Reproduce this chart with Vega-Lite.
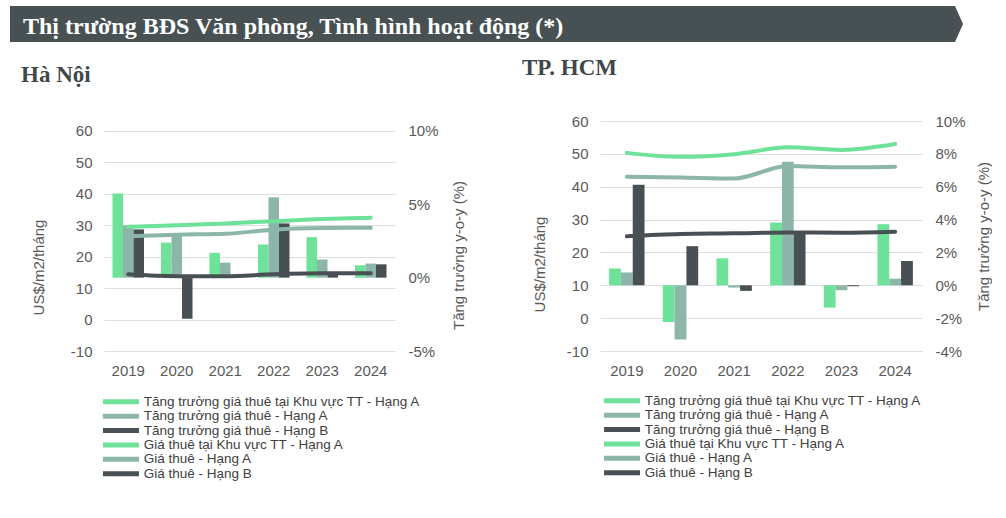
{
  "$schema": "https://vega.github.io/schema/vega-lite/v6.json",
  "padding": {"left": 10, "top": 6, "right": 0, "bottom": 0},
  "background": "white",
  "config": {
    "font": "Liberation Sans",
    "view": {"stroke": null},
    "axis": {"labelFont": "Liberation Sans", "labelFontSize": 15, "labelColor": "#595959", "titleFont": "Liberation Sans", "titleFontSize": 15, "titleFontWeight": "normal", "titleColor": "#595959", "domain": false, "ticks": false, "grid": false, "labelPadding": 12},
    "axisX": {"labelAngle": 0, "labelPadding": 12},
    "legend": {"orient": "none", "symbolType": "M-3,-0.42L3,-0.42L3,0.42L-3,0.42Z", "symbolSize": 144, "symbolStrokeWidth": 0, "labelFont": "Liberation Sans", "labelFontSize": 13.5, "labelColor": "#404040", "labelOffset": 16, "rowPadding": -0.6, "padding": 0, "labelLimit": 400}
  },
  "datasets": {
    "hn_bars": [
      {"year": "2019", "series": "Tăng trưởng giá thuê tại Khu vực TT - Hạng A", "value": 5.74},
      {"year": "2019", "series": "Tăng trưởng giá thuê - Hạng A", "value": 3.57},
      {"year": "2019", "series": "Tăng trưởng giá thuê - Hạng B", "value": 3.29},
      {"year": "2020", "series": "Tăng trưởng giá thuê tại Khu vực TT - Hạng A", "value": 2.39},
      {"year": "2020", "series": "Tăng trưởng giá thuê - Hạng A", "value": 2.95},
      {"year": "2020", "series": "Tăng trưởng giá thuê - Hạng B", "value": -2.8},
      {"year": "2021", "series": "Tăng trưởng giá thuê tại Khu vực TT - Hạng A", "value": 1.69},
      {"year": "2021", "series": "Tăng trưởng giá thuê - Hạng A", "value": 1.02},
      {"year": "2021", "series": "Tăng trưởng giá thuê - Hạng B", "value": 0.1},
      {"year": "2022", "series": "Tăng trưởng giá thuê tại Khu vực TT - Hạng A", "value": 2.26},
      {"year": "2022", "series": "Tăng trưởng giá thuê - Hạng A", "value": 5.48},
      {"year": "2022", "series": "Tăng trưởng giá thuê - Hạng B", "value": 3.7},
      {"year": "2023", "series": "Tăng trưởng giá thuê tại Khu vực TT - Hạng A", "value": 2.76},
      {"year": "2023", "series": "Tăng trưởng giá thuê - Hạng A", "value": 1.24},
      {"year": "2023", "series": "Tăng trưởng giá thuê - Hạng B", "value": 0.3},
      {"year": "2024", "series": "Tăng trưởng giá thuê tại Khu vực TT - Hạng A", "value": 0.85},
      {"year": "2024", "series": "Tăng trưởng giá thuê - Hạng A", "value": 0.96},
      {"year": "2024", "series": "Tăng trưởng giá thuê - Hạng B", "value": 0.91}
    ],
    "hn_lines": [
      {"year": "2019", "series": "Giá thuê tại Khu vực TT - Hạng A", "value": 29.5},
      {"year": "2020", "series": "Giá thuê tại Khu vực TT - Hạng A", "value": 30.0},
      {"year": "2021", "series": "Giá thuê tại Khu vực TT - Hạng A", "value": 30.6},
      {"year": "2022", "series": "Giá thuê tại Khu vực TT - Hạng A", "value": 31.3},
      {"year": "2023", "series": "Giá thuê tại Khu vực TT - Hạng A", "value": 32.0},
      {"year": "2024", "series": "Giá thuê tại Khu vực TT - Hạng A", "value": 32.4},
      {"year": "2019", "series": "Giá thuê - Hạng A", "value": 26.5},
      {"year": "2020", "series": "Giá thuê - Hạng A", "value": 27.0},
      {"year": "2021", "series": "Giá thuê - Hạng A", "value": 27.3},
      {"year": "2022", "series": "Giá thuê - Hạng A", "value": 28.6},
      {"year": "2023", "series": "Giá thuê - Hạng A", "value": 29.1},
      {"year": "2024", "series": "Giá thuê - Hạng A", "value": 29.2},
      {"year": "2019", "series": "Giá thuê - Hạng B", "value": 14.4},
      {"year": "2020", "series": "Giá thuê - Hạng B", "value": 13.8},
      {"year": "2021", "series": "Giá thuê - Hạng B", "value": 13.8},
      {"year": "2022", "series": "Giá thuê - Hạng B", "value": 14.4},
      {"year": "2023", "series": "Giá thuê - Hạng B", "value": 14.7},
      {"year": "2024", "series": "Giá thuê - Hạng B", "value": 14.7}
    ],
    "hcm_bars": [
      {"year": "2019", "series": "Tăng trưởng giá thuê tại Khu vực TT - Hạng A", "value": 1.02},
      {"year": "2019", "series": "Tăng trưởng giá thuê - Hạng A", "value": 0.78},
      {"year": "2019", "series": "Tăng trưởng giá thuê - Hạng B", "value": 6.12},
      {"year": "2020", "series": "Tăng trưởng giá thuê tại Khu vực TT - Hạng A", "value": -2.24},
      {"year": "2020", "series": "Tăng trưởng giá thuê - Hạng A", "value": -3.3},
      {"year": "2020", "series": "Tăng trưởng giá thuê - Hạng B", "value": 2.38},
      {"year": "2021", "series": "Tăng trưởng giá thuê tại Khu vực TT - Hạng A", "value": 1.64},
      {"year": "2021", "series": "Tăng trưởng giá thuê - Hạng A", "value": -0.14},
      {"year": "2021", "series": "Tăng trưởng giá thuê - Hạng B", "value": -0.34},
      {"year": "2022", "series": "Tăng trưởng giá thuê tại Khu vực TT - Hạng A", "value": 3.82},
      {"year": "2022", "series": "Tăng trưởng giá thuê - Hạng A", "value": 7.52},
      {"year": "2022", "series": "Tăng trưởng giá thuê - Hạng B", "value": 3.2},
      {"year": "2023", "series": "Tăng trưởng giá thuê tại Khu vực TT - Hạng A", "value": -1.36},
      {"year": "2023", "series": "Tăng trưởng giá thuê - Hạng A", "value": -0.3},
      {"year": "2023", "series": "Tăng trưởng giá thuê - Hạng B", "value": -0.06},
      {"year": "2024", "series": "Tăng trưởng giá thuê tại Khu vực TT - Hạng A", "value": 3.72},
      {"year": "2024", "series": "Tăng trưởng giá thuê - Hạng A", "value": 0.4},
      {"year": "2024", "series": "Tăng trưởng giá thuê - Hạng B", "value": 1.48}
    ],
    "hcm_lines": [
      {"year": "2019", "series": "Giá thuê tại Khu vực TT - Hạng A", "value": 50.3},
      {"year": "2020", "series": "Giá thuê tại Khu vực TT - Hạng A", "value": 49.1},
      {"year": "2021", "series": "Giá thuê tại Khu vực TT - Hạng A", "value": 49.9},
      {"year": "2022", "series": "Giá thuê tại Khu vực TT - Hạng A", "value": 52.0},
      {"year": "2023", "series": "Giá thuê tại Khu vực TT - Hạng A", "value": 51.2},
      {"year": "2024", "series": "Giá thuê tại Khu vực TT - Hạng A", "value": 53.0},
      {"year": "2019", "series": "Giá thuê - Hạng A", "value": 43.0},
      {"year": "2020", "series": "Giá thuê - Hạng A", "value": 42.8},
      {"year": "2021", "series": "Giá thuê - Hạng A", "value": 42.5},
      {"year": "2022", "series": "Giá thuê - Hạng A", "value": 46.3},
      {"year": "2023", "series": "Giá thuê - Hạng A", "value": 45.9},
      {"year": "2024", "series": "Giá thuê - Hạng A", "value": 46.1},
      {"year": "2019", "series": "Giá thuê - Hạng B", "value": 24.9},
      {"year": "2020", "series": "Giá thuê - Hạng B", "value": 25.6},
      {"year": "2021", "series": "Giá thuê - Hạng B", "value": 25.8},
      {"year": "2022", "series": "Giá thuê - Hạng B", "value": 26.1},
      {"year": "2023", "series": "Giá thuê - Hạng B", "value": 26.0},
      {"year": "2024", "series": "Giá thuê - Hạng B", "value": 26.3}
    ],
    "header": [{"k": 1}]
  },
  "columns": 1,
  "spacing": 15,
  "concat": [
    {
      "width": 851,
      "height": 36,
      "view": {"stroke": null},
      "title": {"text": "Thị trường BĐS Văn phòng, Tình hình hoạt động (*)", "anchor": "start", "frame": "group", "dx": -81, "offset": -52, "baseline": "alphabetic", "font": "Liberation Serif", "fontSize": 24, "fontWeight": "bold", "color": "#ffffff"},
      "data": {"name": "header"},
      "mark": {"type": "point", "shape": "M-945,-36L0,-36L8,-18L0,0L-945,0Z", "size": 4, "filled": true, "color": "#475154", "opacity": 1, "strokeWidth": 0},
      "encoding": {"x": {"value": "width"}, "y": {"value": "height"}}
    },
    {
      "spacing": 55,
      "resolve": {"scale": {"x": "independent", "y": "independent", "color": "independent", "xOffset": "independent"}, "legend": {"color": "independent"}},
      "hconcat": [
        {
          "width": 291,
          "height": 230,
          "title": {"text": "Hà Nội", "anchor": "start", "frame": "group", "dx": -83, "offset": 34, "font": "Liberation Serif", "fontSize": 23, "fontWeight": "bold", "color": "#3F4749"},
          "resolve": {"scale": {"y": "independent"}},
          "layer": [
            {
              "data": {"name": "hn_bars"},
              "mark": {"type": "bar"},
              "encoding": {
                "x": {"field": "year", "type": "ordinal", "title": null, "scale": {"paddingInner": 0.35, "paddingOuter": 0.175}},
                "xOffset": {"field": "series", "type": "nominal", "scale": {"domain": ["Tăng trưởng giá thuê tại Khu vực TT - Hạng A", "Tăng trưởng giá thuê - Hạng A", "Tăng trưởng giá thuê - Hạng B"], "paddingInner": 0, "paddingOuter": 0}},
                "y": {"field": "value", "type": "quantitative", "scale": {"domain": [-5, 10.68], "nice": false, "zero": false}, "axis": {"orient": "right", "values": [-5, 0, 5, 10], "labelExpr": "datum.value + '%'", "title": "Tăng trưởng y-o-y (%)", "titleAngle": 270, "titleBaseline": "top", "titlePadding": 13, "titleY": 134, "labelPadding": 13}},
                "color": {"field": "series", "type": "nominal", "scale": {"domain": ["Tăng trưởng giá thuê tại Khu vực TT - Hạng A", "Tăng trưởng giá thuê - Hạng A", "Tăng trưởng giá thuê - Hạng B", "Giá thuê tại Khu vực TT - Hạng A", "Giá thuê - Hạng A", "Giá thuê - Hạng B"], "range": ["#6EE298", "#8DB6AA", "#485053", "#6EE298", "#8DB6AA", "#485053"]}, "legend": {"legendX": 10.2, "legendY": 274, "title": null}}
              }
            },
            {
              "data": {"name": "hn_lines"},
              "mark": {"type": "line", "strokeWidth": 4, "interpolate": "monotone", "strokeCap": "round"},
              "encoding": {
                "x": {"field": "year", "type": "ordinal", "title": null},
                "y": {"field": "value", "type": "quantitative", "scale": {"domain": [-10, 63.18], "nice": false, "zero": false}, "axis": {"orient": "left", "values": [-10, 0, 10, 20, 30, 40, 50, 60], "labelExpr": "datum.value + ''", "title": "US$/m2/tháng", "titlePadding": 24, "titleY": 146, "grid": true, "gridColor": "#DADFDD", "gridWidth": 1}},
                "color": {"field": "series", "type": "nominal", "legend": null}
              }
            }
          ]
        },
        {
          "width": 322,
          "height": 230,
          "title": {"text": "TP. HCM", "anchor": "start", "frame": "group", "dx": -78, "offset": 34, "font": "Liberation Serif", "fontSize": 23, "fontWeight": "bold", "color": "#3F4749"},
          "resolve": {"scale": {"y": "independent"}},
          "layer": [
            {
              "data": {"name": "hcm_bars"},
              "mark": {"type": "bar"},
              "encoding": {
                "x": {"field": "year", "type": "ordinal", "title": null, "scale": {"paddingInner": 0.34, "paddingOuter": 0.17}},
                "xOffset": {"field": "series", "type": "nominal", "scale": {"domain": ["Tăng trưởng giá thuê tại Khu vực TT - Hạng A", "Tăng trưởng giá thuê - Hạng A", "Tăng trưởng giá thuê - Hạng B"], "paddingInner": 0, "paddingOuter": 0}},
                "y": {"field": "value", "type": "quantitative", "scale": {"domain": [-4, 10], "nice": false, "zero": false}, "axis": {"orient": "right", "values": [-4, -2, 0, 2, 4, 6, 8, 10], "labelExpr": "datum.value + '%'", "title": "Tăng trưởng y-o-y (%)", "titleAngle": 270, "titleBaseline": "top", "titlePadding": 11, "labelPadding": 13}},
                "color": {"field": "series", "type": "nominal", "scale": {"domain": ["Tăng trưởng giá thuê tại Khu vực TT - Hạng A", "Tăng trưởng giá thuê - Hạng A", "Tăng trưởng giá thuê - Hạng B", "Giá thuê tại Khu vực TT - Hạng A", "Giá thuê - Hạng A", "Giá thuê - Hạng B"], "range": ["#6EE298", "#8DB6AA", "#485053", "#6EE298", "#8DB6AA", "#485053"]}, "legend": {"legendX": 15.3, "legendY": 273, "title": null}}
              }
            },
            {
              "data": {"name": "hcm_lines"},
              "mark": {"type": "line", "strokeWidth": 4, "interpolate": "monotone", "strokeCap": "round"},
              "encoding": {
                "x": {"field": "year", "type": "ordinal", "title": null},
                "y": {"field": "value", "type": "quantitative", "scale": {"domain": [-10, 60], "nice": false, "zero": false}, "axis": {"orient": "left", "values": [-10, 0, 10, 20, 30, 40, 50, 60], "labelExpr": "datum.value + ''", "title": "US$/m2/tháng", "titlePadding": 19, "titleY": 143, "grid": true, "gridColor": "#DADFDD", "gridWidth": 1}},
                "color": {"field": "series", "type": "nominal", "legend": null}
              }
            }
          ]
        }
      ]
    }
  ]
}
